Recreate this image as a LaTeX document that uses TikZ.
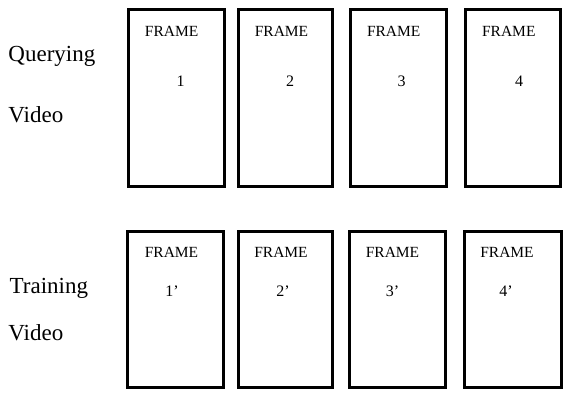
\documentclass[tikz,border=0pt]{standalone}
\usepackage{fontspec}
\setmainfont{Liberation Serif}
\begin{document}
\begin{tikzpicture}[x=1pt,y=-1pt,
  framebox/.style={draw=black,line width=3pt},
  frametxt/.style={anchor=base,inner sep=0pt,font=\fontsize{15.5}{16}\selectfont},
  numtxt/.style={anchor=base,inner sep=0pt,font=\fontsize{16}{16}\selectfont},
  sidetxt/.style={anchor=base west,inner sep=0pt,font=\fontsize{23}{24}\selectfont}]
\useasboundingbox (0,0) rectangle (563,392);
% top row
\draw[framebox] (128.5,9.5) rectangle (224.5,186.5);
\draw[framebox] (238.5,9.5) rectangle (332.5,186.5);
\draw[framebox] (350.5,9.5) rectangle (446.5,186.5);
\draw[framebox] (465.5,9.5) rectangle (560.5,186.5);
\node[frametxt] (fa) at (171.7,36.7) {FRAME};
\node[frametxt] (fb) at (281.5,36.7) {FRAME};
\node[frametxt] (fc) at (393.7,36.7) {FRAME};
\node[frametxt] (fd) at (508.8,36.7) {FRAME};
\node[numtxt] (na) at (180.5,86) {1};
\node[numtxt] (nb) at (290,86) {2};
\node[numtxt] (nc) at (401.7,86) {3};
\node[numtxt] (nd) at (519,86) {4};
\node[sidetxt] (q1) at (8.3,61.5) {Querying};
\node[sidetxt] (q2) at (8.3,122) {Video};
% bottom row
\draw[framebox] (127.5,231) rectangle (223.5,387.5);
\draw[framebox] (238.5,231) rectangle (332.5,387.5);
\draw[framebox] (349.5,231) rectangle (445.5,387.5);
\draw[framebox] (464.5,231) rectangle (561.5,387.5);
\node[frametxt] (ga) at (171.5,257) {FRAME};
\node[frametxt] (gb) at (281,257) {FRAME};
\node[frametxt] (gc) at (392.5,257) {FRAME};
\node[frametxt] (gd) at (507,257) {FRAME};
\node[numtxt] (ma) at (172,296) {1’};
\node[numtxt] (mb) at (283,296) {2’};
\node[numtxt] (mc) at (392.5,296) {3’};
\node[numtxt] (md) at (506,296) {4’};
\node[sidetxt] (t1) at (9.5,293.5) {Training};
\node[sidetxt] (t2) at (8.3,340) {Video};
\end{tikzpicture}
\end{document}
